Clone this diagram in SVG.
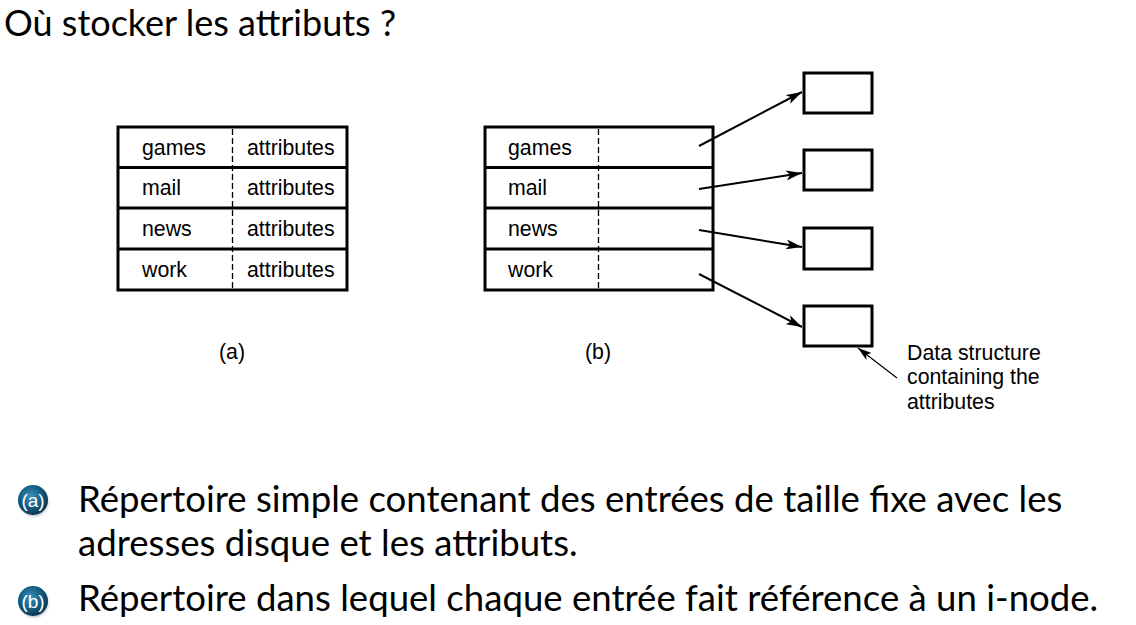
<svg xmlns="http://www.w3.org/2000/svg" width="1136" height="625" viewBox="0 0 1136 625">
<style>
.title{font-family:Lato,"Open Sans",sans-serif;font-size:36px;fill:#000}
.bul{font-family:Lato,"Open Sans",sans-serif;font-size:36.6px;fill:#000}
.fig{font-family:"Liberation Sans",Arial,sans-serif;font-size:21.3px;fill:#000}
.box{fill:#fff;stroke:#000;stroke-width:3}
.row{stroke:#000;stroke-width:3}
.dash{stroke:#000;stroke-width:1.3;stroke-dasharray:6,3}
.conn{stroke:#000;stroke-width:2;fill:none}
.thin{stroke:#000;stroke-width:1.2;fill:none}
.blt{font-family:"Liberation Sans",Arial,sans-serif;font-size:19px;fill:#fff;text-anchor:middle}
</style>
<defs>
<marker id="ah" viewBox="0 0 16 10" refX="16" refY="5" markerWidth="16" markerHeight="10" markerUnits="userSpaceOnUse" orient="auto">
<path d="M0,0 L16,5 L0,10 L4,5 z" fill="#000"/>
</marker>
<marker id="ahs" viewBox="0 0 14 9" refX="14" refY="4.5" markerWidth="14" markerHeight="9" markerUnits="userSpaceOnUse" orient="auto">
<path d="M0,0 L14,4.5 L0,9 L3.5,4.5 z" fill="#000"/>
</marker>
<radialGradient id="bg" cx="0.42" cy="0.38" r="0.62">
<stop offset="0" stop-color="#3d93bb"/>
<stop offset="0.6" stop-color="#135c82"/>
<stop offset="1" stop-color="#0a3550"/>
</radialGradient>
<radialGradient id="sh" cx="0.5" cy="0.5" r="0.5">
<stop offset="0.75" stop-color="#7a8e9a" stop-opacity="0.6"/>
<stop offset="1" stop-color="#ffffff" stop-opacity="0"/>
</radialGradient>
</defs>
<rect width="1136" height="625" fill="#fff"/>
<text class="title" x="4" y="36">Où stocker les attributs ?</text>

<g id="table-a">
<rect class="box" x="118" y="127" width="229" height="163"/>
<line class="row" x1="118" y1="167.5" x2="347" y2="167.5"/>
<line class="row" x1="118" y1="208" x2="347" y2="208"/>
<line class="row" x1="118" y1="249" x2="347" y2="249"/>
<line class="dash" x1="232.5" y1="129" x2="232.5" y2="288"/>
<text class="fig" x="142" y="155">games</text>
<text class="fig" x="142" y="195">mail</text>
<text class="fig" x="142" y="236">news</text>
<text class="fig" x="142" y="277">work</text>
<text class="fig" x="247" y="155">attributes</text>
<text class="fig" x="247" y="195">attributes</text>
<text class="fig" x="247" y="236">attributes</text>
<text class="fig" x="247" y="277">attributes</text>
<text class="fig" x="232" y="359" text-anchor="middle">(a)</text>
</g>

<g id="table-b">
<rect class="box" x="485" y="127" width="228" height="163"/>
<line class="row" x1="485" y1="167.5" x2="713" y2="167.5"/>
<line class="row" x1="485" y1="208" x2="713" y2="208"/>
<line class="row" x1="485" y1="249" x2="713" y2="249"/>
<line class="dash" x1="598.5" y1="129" x2="598.5" y2="288"/>
<text class="fig" x="508" y="155">games</text>
<text class="fig" x="508" y="195">mail</text>
<text class="fig" x="508" y="236">news</text>
<text class="fig" x="508" y="277">work</text>
<text class="fig" x="598" y="359" text-anchor="middle">(b)</text>
</g>

<g id="attr-1"><rect class="box" x="804" y="73" width="68" height="40"/></g>
<g id="attr-2"><rect class="box" x="804" y="150" width="68" height="40"/></g>
<g id="attr-3"><rect class="box" x="804" y="228" width="68" height="41"/></g>
<g id="attr-4"><rect class="box" x="804" y="306" width="68" height="40"/></g>

<g id="note">
<text class="fig" x="907" y="360">Data structure</text>
<text class="fig" x="907" y="384">containing the</text>
<text class="fig" x="907" y="409">attributes</text>
</g>

<g id="connectors">
<line class="conn" x1="699" y1="146" x2="802" y2="92" marker-end="url(#ah)"/>
<line class="conn" x1="699" y1="189" x2="802" y2="173" marker-end="url(#ah)"/>
<line class="conn" x1="699" y1="230" x2="802" y2="247" marker-end="url(#ah)"/>
<line class="conn" x1="699" y1="274" x2="802" y2="327" marker-end="url(#ah)"/>
<line class="thin" x1="897" y1="378" x2="858" y2="348" marker-end="url(#ahs)"/>
</g>

<g id="bullet-a">
<circle cx="34" cy="502" r="17" fill="url(#sh)"/>
<circle cx="33" cy="500" r="15" fill="url(#bg)"/>
<text class="blt" x="33" y="507">(a)</text>
<text class="bul" x="78" y="512">Répertoire simple contenant des entrées de taille fixe avec les</text>
<text class="bul" x="78" y="556">adresses disque et les attributs.</text>
</g>
<g id="bullet-b">
<circle cx="34" cy="603" r="17" fill="url(#sh)"/>
<circle cx="33" cy="601" r="15" fill="url(#bg)"/>
<text class="blt" x="33" y="608">(b)</text>
<text class="bul" x="78" y="611">Répertoire dans lequel chaque entrée fait référence à un i-node.</text>
</g>
</svg>
